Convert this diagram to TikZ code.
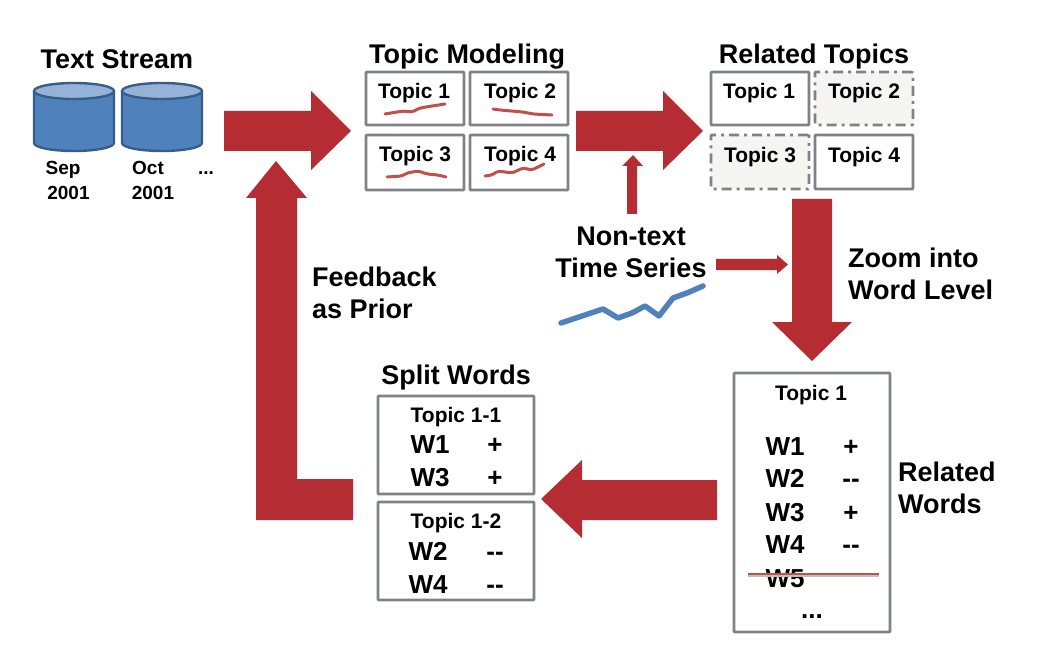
\documentclass[tikz,border=0pt]{standalone}
\usepackage{fontspec}
\setmainfont{Liberation Sans}[BoldFont={Liberation Sans Bold}]
\definecolor{blockred}{RGB}{181,45,51}
\definecolor{panelgray}{RGB}{127,130,137}
\definecolor{softfill}{RGB}{246,245,241}
\definecolor{cylfill}{RGB}{79,129,189}
\definecolor{cyledge}{RGB}{56,93,138}
\definecolor{cyltop}{RGB}{149,179,215}
\definecolor{sketchred}{RGB}{192,80,77}
\newcommand\panelnode[6][]{\node[panelbox,#1,minimum width={(#5-#3)*1pt},minimum height={(#6-#4)*1pt}] (#2) at ({(#3+#5)/2},{(#4+#6)/2}) {};}
\newcommand\fs[1]{\fontsize{#1}{#1}\selectfont\bfseries}
\newcommand\cylinder[1]{%
  \draw[cyl,fill=cylfill] (#1,91) -- (#1,143) arc[start angle=180,end angle=0,x radius=40,y radius=8] -- (#1+80,91);
  \draw[cyl,fill=cyltop] (#1+40,91) ellipse[x radius=40,y radius=8];}
\tikzset{
  panelbox/.style={draw=panelgray,line width=2.6pt,fill=white,inner sep=0pt,outer sep=0pt,rectangle,rounded corners=0.8pt},
  softbox/.style={draw=panelgray,line width=2.6pt,fill=softfill,dash pattern=on 10pt off 5pt on 3pt off 5pt},
  cyl/.style={draw=cyledge,line width=2.4pt},
  block/.style={fill=blockred,draw=none},
  sketch/.style={draw=sketchred,line width=3pt,line cap=round,line join=round,rounded corners=2pt},
  series/.style={draw=cylfill,line width=5.5pt,line cap=round,line join=round},
  big/.style={font=\fs{27},text=black,inner sep=0pt,anchor=base},
  bigleft/.style={font=\fs{27},text=black,inner sep=0pt,anchor=base west},
  topic/.style={font=\fs{21},text=black,inner sep=0pt,anchor=base},
  word/.style={font=\fs{26},text=black,inner sep=0pt,anchor=base},
  small/.style={font=\fs{19},text=black,inner sep=0pt,anchor=base},
}
\begin{document}
\begin{tikzpicture}[x=1pt,y=-1pt]
\useasboundingbox (0,0) rectangle (1055,671);
% cylinders
\cylinder{34}
\cylinder{122}
\node[big] (tstream) at (117,69) {Text Stream};
\node[small] (sep) at (63,174.5) {Sep};
\node[small] (sepy) at (68.5,200) {2001};
\node[small] (oct) at (148,174.5) {Oct};
\node[small] (octy) at (153,200) {2001};
\node[small] (dots) at (206,174.5) {...};
% block arrows
\fill[block] (224,111) -- (311,111) -- (311,91) -- (351,131) -- (311,170) -- (311,151) -- (224,151) -- cycle;
\fill[block] (576,111) -- (663,111) -- (663,91) -- (703,131) -- (663,170) -- (663,151) -- (576,151) -- cycle;
\fill[block] (276,161) -- (307,198) -- (297,198) -- (297,479) -- (353,479) -- (353,520) -- (256,520) -- (256,198) -- (246,198) -- cycle;
\fill[block] (633,155) -- (643,166) -- (637,166) -- (637,214) -- (627,214) -- (627,166) -- (622,166) -- cycle;
\fill[block] (716,259) -- (777,259) -- (777,255) -- (788,264.5) -- (777,274) -- (777,270) -- (716,270) -- cycle;
\fill[block] (792,199) -- (832,199) -- (832,322) -- (852,322) -- (812,361) -- (772,322) -- (792,322) -- cycle;
\fill[block] (717,480) -- (582,480) -- (582,460) -- (541,499) -- (582,538) -- (582,520) -- (717,520) -- cycle;
% Topic Modeling
\node[big] (tm) at (467,63.5) {Topic Modeling};
\panelnode{tma}{366}{72}{464}{125}
\panelnode{tmb}{470}{72}{568}{125}
\panelnode{tmc}{366}{135}{464}{190}
\panelnode{tmd}{470}{135}{568}{190}
\node[topic] at (414,98.5) {Topic 1};
\node[topic] at (520,98.5) {Topic 2};
\node[topic] at (415,162) {Topic 3};
\node[topic] at (520,162) {Topic 4};
\draw[sketch] (385,114) -- (403,111) -- (412,112) -- (420,108) -- (432,106) -- (445,104);
\draw[sketch] (493,109) -- (500,110) -- (523,112) -- (533,114) -- (552,115);
\draw[sketch] (387,177) -- (402,176) -- (407,173) -- (418,171) -- (427,174) -- (438,175) -- (446,177);
\draw[sketch] (485,176) -- (492,175) -- (498,171) -- (512,173) -- (523,168) -- (532,170) -- (544,164);
% Related Topics
\node[big] (rt) at (814,63.5) {Related Topics};
\panelnode{rta}{711}{72}{809}{125}
\panelnode[softbox]{rtb}{815}{72}{913}{125}
\panelnode[softbox]{rtc}{711}{135}{809}{189}
\panelnode{rtd}{815}{135}{913}{189}
\node[topic] at (759,98.5) {Topic 1};
\node[topic] at (864,98.5) {Topic 2};
\node[topic] at (760,163) {Topic 3};
\node[topic] at (864,163) {Topic 4};
% Non-text time series
\node[big] (nt) at (631,246) {Non-text};
\node[big] (ts) at (631,277) {Time Series};
\draw[series] (561,323) -- (603,309) -- (618,318) -- (632,313) -- (645,306) -- (659,316) -- (673,298) -- (687,293) -- (703,286);
% side labels
\node[bigleft] (zi) at (848,268) {Zoom into};
\node[bigleft] (wl) at (848,299) {Word Level};
\node[bigleft] (fb) at (312,287) {Feedback};
\node[bigleft] (ap) at (312,318) {as Prior};
\node[bigleft] (rw) at (898,481) {Related};
\node[bigleft] (wd) at (898,513) {Words};
% Split words
\node[big] (sw) at (456,384) {Split Words};
\panelnode{spa}{378}{396}{534}{494}
\panelnode{spb}{378}{502}{534}{600}
\node[topic] at (456,422) {Topic 1-1};
\node[word] at (430,453) {W1};
\node[word] at (495,453) {+};
\node[word] at (430,486) {W3};
\node[word] at (495,486) {+};
\node[topic] at (456,528) {Topic 1-2};
\node[word] at (428,560) {W2};
\node[word] at (495,560) {-{}-};
\node[word] at (428,593) {W4};
\node[word] at (495,593) {-{}-};
% Related words panel
\panelnode{rwp}{734}{373}{890}{632}
\node[topic] at (811,400) {Topic 1};
\node[word] at (785,455) {W1};
\node[word] at (851,455) {+};
\node[word] at (785,487) {W2};
\node[word] at (851,487) {-{}-};
\node[word] at (785,521) {W3};
\node[word] at (851,521) {+};
\node[word] at (785,553) {W4};
\node[word] at (851,553) {-{}-};
\node[word] (wfive) at (785,587) {W5};
\node[word] at (812,618) {...};
\draw[gray!50,line width=1.5pt] (748,576) -- (879,576);
\draw[sketchred,line width=2.2pt] (748,574) -- (879,574);
\end{tikzpicture}
\end{document}
